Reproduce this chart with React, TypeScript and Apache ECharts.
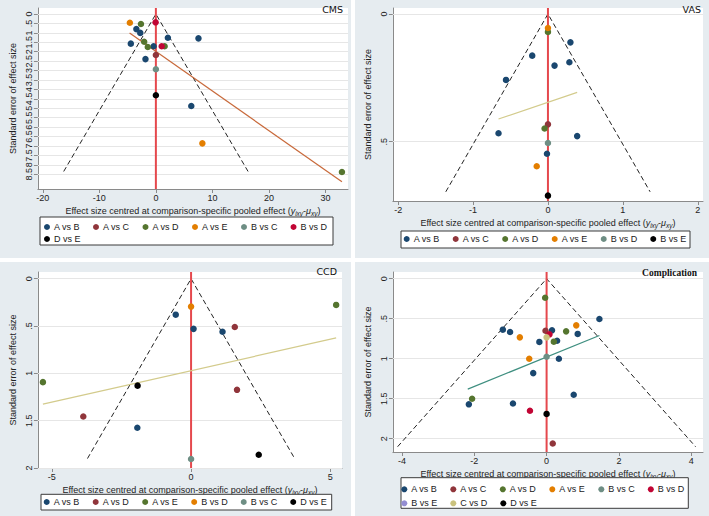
import React, { useEffect, useRef } from "react";
import * as echarts from "echarts";

// ---------- colours ----------
const NAVY = "#1a476f";
const MAROON = "#90353b";
const GREEN = "#55752f";
const ORANGE = "#e37e00";
const TEAL = "#6e8e84";
const CRANBERRY = "#c10534";
const LAVENDER = "#938dd2";
const KHAKI = "#cac27e";
const BLACK = "#000000";
const RED_LINE = "#e5484d";
const BG = "#e6ecf0";
const FONT = "Liberation Sans, Arial, sans-serif";

// ---------- CMS ----------
const cmsLabels = ["A vs B", "A vs C", "A vs D", "A vs E", "B vs C", "B vs D", "D vs E"];
const cms_AB = [[-3.45, 0.8], [-2.76, 1.0], [2.12, 1.26], [7.53, 1.29], [-4.43, 1.57], [-0.4, 1.71], [-1.84, 2.39], [6.26, 4.88]];
const cms_AC = [[0, 2.17]];
const cms_AD = [[-2.64, 0.53], [-2.07, 1.47], [-1.43, 1.75], [1.55, 1.71], [32.9, 8.38]];
const cms_AE = [[-4.6, 0.46], [8.22, 6.86]];
const cms_BC = [[0, 2.93]];
const cms_BD = [[-0.05, 0.44], [1.03, 1.71]];
const cms_DE = [[0, 4.31]];
const cmsFunnel = [[-16.3, 8.35], [0, 0], [16.3, 8.35]];
const cmsFit = [[-4.65, 1.0], [32.9, 8.9]];
const cmsXTicks = [-20, -10, 0, 10, 20, 30];
const cmsYTicks = [0, 0.5, 1, 1.5, 2, 2.5, 3, 3.5, 4, 4.5, 5, 5.5, 6, 6.5, 7, 7.5, 8, 8.5];

// ---------- VAS ----------
const vasLabels = ["A vs B", "A vs C", "A vs D", "A vs E", "B vs D", "B vs E"];
const vas_AB = [[0.3, 0.111], [-0.21, 0.163], [0.286, 0.189], [0.088, 0.202], [-0.56, 0.258], [-0.66, 0.467], [0.39, 0.478], [-0.013, 0.547]];
const vas_AC = [[0, 0.432]];
const vas_AD = [[0, 0.07], [-0.045, 0.448]];
const vas_AE = [[0, 0.055], [-0.15, 0.596]];
const vas_BD = [[0, 0.505]];
const vas_BE = [[0, 0.711]];
const vasFunnel = [[-1.364, 0.696], [0, 0], [1.364, 0.696]];
const vasFit = [[-0.66, 0.411], [0.39, 0.307]];
const vasXTicks = [-2, -1, 0, 1, 2];
const vasYTicks = [0, 0.5];

// ---------- CCD ----------
const ccdLabels = ["A vs B", "A vs D", "A vs E", "B vs D", "B vs C", "D vs E"];
const ccd_AB = [[-0.55, 0.38], [0.09, 0.53], [1.13, 0.56], [-1.93, 1.575]];
const ccd_AD = [[1.57, 0.51], [1.65, 1.174], [-3.87, 1.456]];
const ccd_AE = [[5.21, 0.277], [-5.32, 1.093]];
const ccd_BD = [[0, 0.295]];
const ccd_BC = [[0, 1.905]];
const ccd_DE = [[-1.92, 1.13], [2.43, 1.86]];
const ccdFunnel = [[-3.72, 1.9], [0, 0], [3.72, 1.9]];
const ccdFit = [[-5.32, 1.325], [5.21, 0.626]];
const ccdXTicks = [-5, 0, 5];
const ccdYTicks = [0, 0.5, 1, 1.5, 2];

// ---------- Complication ----------
const compLabels = ["A vs B", "A vs C", "A vs D", "A vs E", "B vs C", "B vs D", "B vs E", "C vs D", "D vs E"];
const comp_AB = [[1.46, 0.504], [-1.21, 0.637], [-1.01, 0.666], [0.15, 0.645], [0.86, 0.69], [-0.2, 0.79], [0.29, 0.775], [0.34, 1.0], [-0.37, 1.18], [-2.15, 1.57], [-0.93, 1.56], [0.75, 1.45]];
const comp_AC = [[-0.03, 0.65], [0.17, 2.06]];
const comp_AD = [[-0.04, 0.2375], [0.54, 0.658], [0.2, 0.787], [-2.06, 1.5]];
const comp_AE = [[0.82, 0.583], [-0.74, 0.733], [-0.48, 1.0]];
const comp_BC = [[0, 0.975]];
const comp_BD = [[0.08, 0.695], [-0.46, 1.65]];
const comp_BE: number[][] = [];
const comp_CD = [[0, 0.733]];
const comp_DE = [[0, 1.69]];
const compFunnel = [[-4.12, 2.1], [0, 0], [4.12, 2.1]];
const compFit = [[-2.18, 1.38], [1.46, 0.71]];
const compXTicks = [-4, -2, 0, 2, 4];
const compYTicks = [0, 0.5, 1, 1.5, 2];

const X_NAME =
  "Effect size centred at comparison-specific pooled effect ({i|y}{s|ixy}-{i|μ}{s|xy})";

function yFmt(v: number) {
  if (v === 0) return "0";
  const s = String(v);
  return s.startsWith("0.") ? s.slice(1) : s;
}

type Panel = {
  key: string;
  box: { left: number; top: number; width: number; height: number };
  title: string;
  titleStyle: any;
  titleRight: number;
  titleTop: number;
  grid: { left: number; top: number; width: number; height: number };
  xRange: [number, number];
  yRange: [number, number];
  xTicks: number[];
  yTicks: number[];
  labels: string[];
  colors: string[];
  points: number[][][];
  funnel: number[][];
  fit: number[][];
  fitColor: string;
  legendBox: { x: number; y: number; w: number; h: number };
  legendRows: { names: string[]; left: number; top: number }[];
  xNameGap: number;
  yNameGap: number;
};

const AXIS_COLOR = "#8a8a8a";

function buildOption(p: Panel) {
  const axisLine = { show: true, onZero: false, lineStyle: { color: AXIS_COLOR, width: 1 } };
  const axisTick = (vals: number[]) => ({
    show: true,
    inside: false,
    length: 4,
    customValues: vals,
    lineStyle: { color: AXIS_COLOR, width: 1 },
  });
  return {
    animation: false,
    backgroundColor: BG,
    title: {
      text: p.title,
      right: p.titleRight,
      top: p.titleTop,
      padding: 0,
      textStyle: p.titleStyle,
    },
    grid: {
      ...p.grid,
      show: true,
      backgroundColor: "#ffffff",
      borderWidth: 0,
      containLabel: false,
    },
    xAxis: {
      type: "value",
      min: p.xRange[0],
      max: p.xRange[1],
      axisLine,
      axisTick: axisTick(p.xTicks),
      axisLabel: {
        customValues: p.xTicks,
        fontSize: 9,
        fontFamily: FONT,
        color: "#222",
        margin: 4,
      },
      splitLine: { show: false },
      name: X_NAME,
      nameLocation: "middle",
      nameGap: p.xNameGap,
      nameTextStyle: {
        fontSize: 9,
        fontFamily: FONT,
        color: "#222",
        rich: {
          i: { fontSize: 9, fontStyle: "italic", fontFamily: FONT, color: "#222" },
          s: { fontSize: 6.5, fontStyle: "italic", fontFamily: FONT, color: "#222", padding: [4, 0, 0, 0] },
        },
      },
    },
    yAxis: {
      type: "value",
      inverse: true,
      min: p.yRange[0],
      max: p.yRange[1],
      axisLine,
      axisTick: axisTick(p.yTicks),
      axisLabel: {
        customValues: p.yTicks,
        rotate: 90,
        fontSize: 9,
        fontFamily: FONT,
        color: "#222",
        margin: 4,
        formatter: yFmt,
      },
      splitLine: { show: false },
      name: "Standard error of effect size",
      nameLocation: "middle",
      nameGap: p.yNameGap,
      nameTextStyle: { fontSize: 9, fontFamily: FONT, color: "#222" },
    },
    legend: p.legendRows.map((r) => ({
      data: r.names,
      left: r.left,
      top: r.top,
      orient: "horizontal",
      padding: 0,
      itemGap: 13,
      itemWidth: 6,
      itemHeight: 6,
      icon: "circle",
      selectedMode: false,
      z: 10,
      textStyle: { fontSize: 9, fontFamily: FONT, color: "#1a1a1a", padding: [0, 0, 0, -1] },
    })),
    graphic: [
      {
        type: "rect",
        z: 1,
        shape: { x: p.legendBox.x, y: p.legendBox.y, width: p.legendBox.w, height: p.legendBox.h },
        style: { fill: "#ffffff", stroke: "#3a3a3a", lineWidth: 1 },
      },
    ],
    series: [
      {
        type: "line",
        data: p.funnel,
        symbol: "none",
        silent: true,
        z: 2,
        lineStyle: { color: "#222", width: 1, type: [5, 3] },
        markLine: {
          silent: true,
          symbol: ["none", "none"],
          label: { show: false },
          z: 1,
          lineStyle: { color: "#e6e6e6", type: "solid", width: 1 },
          data: p.yTicks.map((v) => ({ yAxis: v })),
        },
      },
      {
        type: "line",
        data: [
          [0, p.yRange[0]],
          [0, p.yRange[1]],
        ],
        symbol: "none",
        silent: true,
        z: 3,
        lineStyle: { color: RED_LINE, width: 2 },
      },
      {
        type: "line",
        data: p.fit,
        symbol: "none",
        silent: true,
        z: 3,
        lineStyle: { color: p.fitColor, width: 1.2 },
      },
      ...p.points.map((d, i) => ({
        type: "scatter",
        name: p.labels[i],
        data: d,
        symbol: "circle",
        symbolSize: 6.5,
        z: 5,
        itemStyle: { color: p.colors[i], opacity: 1 },
      })),
    ],
  };
}

const titleSans = { fontSize: 9.5, fontWeight: "normal", color: "#111", fontFamily: "DejaVu Sans, sans-serif" };

const panels: Panel[] = [
  {
    key: "cms",
    box: { left: 0, top: 0, width: 351, height: 258 },
    title: "CMS",
    titleStyle: titleSans,
    titleRight: 8,
    titleTop: 4,
    grid: { left: 30, top: 8, width: 318, height: 181 },
    xRange: [-20.86, 33.97],
    yRange: [-0.32, 9.28],
    xTicks: cmsXTicks,
    yTicks: cmsYTicks,
    labels: cmsLabels,
    colors: [NAVY, MAROON, GREEN, ORANGE, TEAL, CRANBERRY, BLACK],
    points: [cms_AB, cms_AC, cms_AD, cms_AE, cms_BC, cms_BD, cms_DE],
    funnel: cmsFunnel,
    fit: cmsFit,
    fitColor: "#c8693a",
    legendBox: { x: 40, y: 217, w: 293, h: 28 },
    legendRows: [
      { names: cmsLabels.slice(0, 6), left: 44, top: 222.5 },
      { names: cmsLabels.slice(6), left: 44, top: 234.5 },
    ],
    xNameGap: 15,
    yNameGap: 15,
  },
  {
    key: "vas",
    box: { left: 355, top: 0, width: 354, height: 258 },
    title: "VAS",
    titleStyle: titleSans,
    titleRight: 8,
    titleTop: 4,
    grid: { left: 35, top: 8, width: 313, height: 193 },
    xRange: [-2.07, 2.07],
    yRange: [-0.0235, 0.732],
    xTicks: vasXTicks,
    yTicks: vasYTicks,
    labels: vasLabels,
    colors: [NAVY, MAROON, GREEN, ORANGE, TEAL, BLACK],
    points: [vas_AB, vas_AC, vas_AD, vas_AE, vas_BD, vas_BE],
    funnel: vasFunnel,
    fit: vasFit,
    fitColor: "#d3cb8c",
    legendBox: { x: 46, y: 231, w: 289, h: 17 },
    legendRows: [{ names: vasLabels, left: 48.7, top: 234.5 }],
    xNameGap: 15,
    yNameGap: 15,
  },
  {
    key: "ccd",
    box: { left: 0, top: 262, width: 351, height: 254 },
    title: "CCD",
    titleStyle: titleSans,
    titleRight: 14,
    titleTop: 4,
    grid: { left: 29, top: 10, width: 313, height: 196 },
    xRange: [-5.5, 5.42],
    yRange: [-0.0707, 2.0],
    xTicks: ccdXTicks,
    yTicks: ccdYTicks,
    labels: ccdLabels,
    colors: [NAVY, MAROON, GREEN, ORANGE, TEAL, BLACK],
    points: [ccd_AB, ccd_AD, ccd_AE, ccd_BD, ccd_BC, ccd_DE],
    funnel: ccdFunnel,
    fit: ccdFit,
    fitColor: "#d3cb8c",
    legendBox: { x: 41, y: 232.3, w: 290.7, h: 15.7 },
    legendRows: [{ names: ccdLabels, left: 43.7, top: 235.5 }],
    xNameGap: 13,
    yNameGap: 15,
  },
  {
    key: "comp",
    box: { left: 355, top: 262, width: 354, height: 254 },
    title: "Complication",
    titleStyle: { fontSize: 9.5, fontWeight: "bold", color: "#111", fontFamily: "Liberation Serif, Times New Roman, serif" },
    titleRight: 12,
    titleTop: 6,
    grid: { left: 34, top: 10, width: 314, height: 180 },
    xRange: [-4.25, 4.325],
    yRange: [-0.084, 2.166],
    xTicks: compXTicks,
    yTicks: compYTicks,
    labels: compLabels,
    colors: [NAVY, MAROON, GREEN, ORANGE, TEAL, CRANBERRY, LAVENDER, KHAKI, BLACK],
    points: [comp_AB, comp_AC, comp_AD, comp_AE, comp_BC, comp_BD, comp_BE, comp_CD, comp_DE],
    funnel: compFunnel,
    fit: compFit,
    fitColor: "#3f8f80",
    legendBox: { x: 46, y: 215.7, w: 287.3, h: 30.6 },
    legendRows: [
      { names: compLabels.slice(0, 6), left: 46.3, top: 222.8 },
      { names: compLabels.slice(6), left: 46.3, top: 236.8 },
    ],
    xNameGap: 16,
    yNameGap: 15,
  },
];

function PanelChart({ p }: { p: Panel }) {
  const ref = useRef<HTMLDivElement>(null);
  useEffect(() => {
    if (!ref.current) return;
    const chart = echarts.init(ref.current, undefined, { renderer: "svg" });
    chart.setOption(buildOption(p) as any);
    return () => chart.dispose();
  }, [p]);
  return (
    <div
      ref={ref}
      style={{
        position: "absolute",
        left: p.box.left,
        top: p.box.top,
        width: p.box.width,
        height: p.box.height,
      }}
    />
  );
}

export default function App() {
  return (
    <div
      style={{
        position: "fixed",
        left: 0,
        top: 0,
        width: 709,
        height: 516,
        background: "#ffffff",
        overflow: "hidden",
      }}
    >
      {panels.map((p) => (
        <PanelChart key={p.key} p={p} />
      ))}
    </div>
  );
}
